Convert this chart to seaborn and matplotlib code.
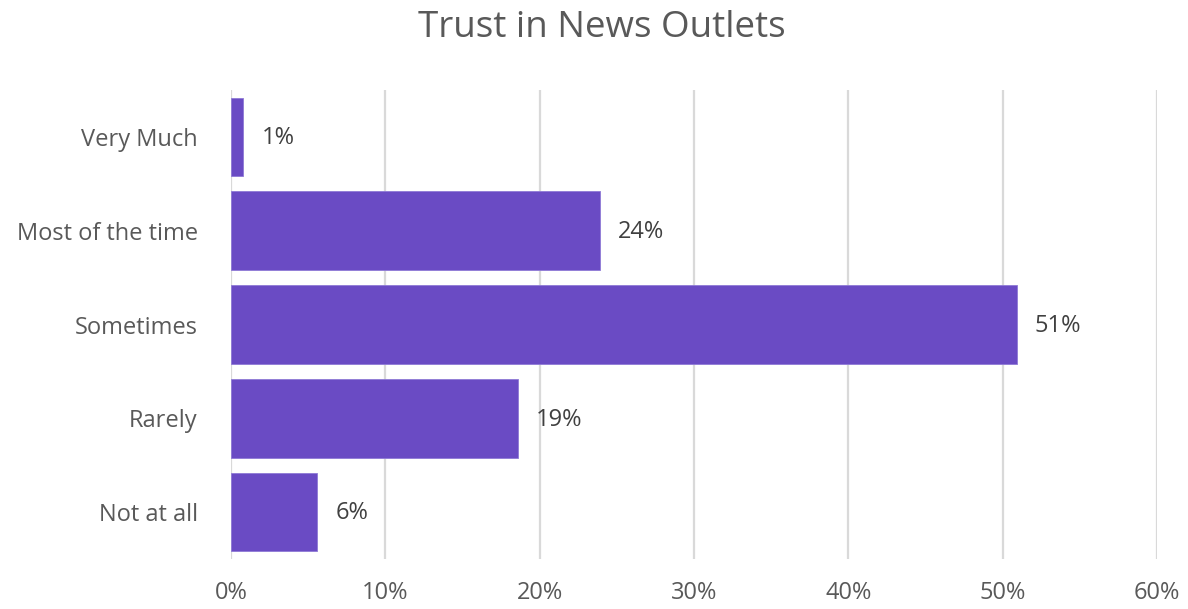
import matplotlib
matplotlib.use("Agg")
import matplotlib.pyplot as plt
import seaborn as sns
import pandas as pd
from matplotlib.ticker import FuncFormatter

categories = ["Very Much", "Most of the time", "Sometimes", "Rarely", "Not at all"]
shares = [0.8, 23.9, 50.9, 18.6, 5.6]
x_ticks = [0, 10, 20, 30, 40, 50, 60]

df = pd.DataFrame({"answer": categories, "share": shares})

sns.set_theme(style="white")
plt.rcParams["font.family"] = ["Open Sans", "DejaVu Sans"]

text_color = "#595959"
bar_color = "#6A4BC4"

fig = plt.figure(figsize=(11.88, 6.09), dpi=100)
ax = fig.add_axes([231 / 1188, 1 - 559 / 609, (1157 - 231) / 1188, (559 - 90) / 609])

sns.barplot(data=df, y="answer", x="share", order=categories, color=bar_color,
            saturation=1, width=0.84, edgecolor="#8E7AD6", linewidth=0.6, ax=ax, zorder=3)

ax.set_xlim(0, 60)
ax.set_xticks(x_ticks)
ax.xaxis.set_major_formatter(FuncFormatter(lambda v, _: f"{v:.0f}%"))
ax.grid(axis="x", color="#D9D9D9", linewidth=1.6, zorder=0)
ax.grid(axis="y", visible=False)
for s in ax.spines.values():
    s.set_visible(False)
ax.tick_params(axis="both", length=0, labelsize=17, colors=text_color)
ax.tick_params(axis="x", pad=16)
ax.tick_params(axis="y", pad=24)
ax.set_xlabel("")
ax.set_ylabel("")

for i, v in enumerate(shares):
    ax.annotate(f"{v:.0f}%", xy=(v, i), xytext=(13, -1), textcoords="offset points",
                ha="left", va="center", fontsize=17, color="#404040")

fig.text(602 / 1188, 1 - 28 / 609, "Trust in News Outlets", ha="center", va="center",
         fontsize=26.5, color=text_color)

fig.savefig("out.png", dpi=100, facecolor="white")
